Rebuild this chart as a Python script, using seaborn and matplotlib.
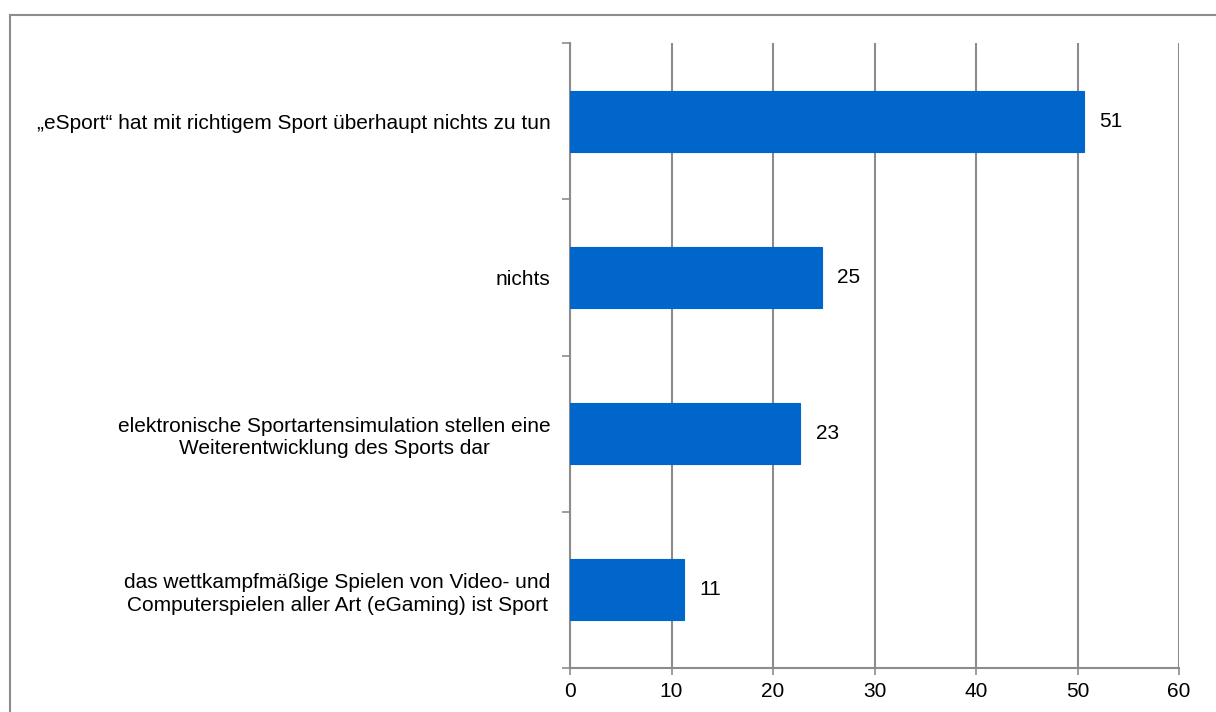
import matplotlib
matplotlib.use("Agg")
import matplotlib.pyplot as plt
from matplotlib.patches import Rectangle
import seaborn as sns
import pandas as pd

categories = [
    "„eSport“ hat mit richtigem Sport überhaupt nichts zu tun",
    "nichts",
    "elektronische Sportartensimulation stellen eine\nWeiterentwicklung des Sports dar",
    "das wettkampfmäßige Spielen von Video- und\nComputerspielen aller Art (eGaming) ist Sport",
]
values = [50.6, 24.8, 22.7, 11.2]
x_ticks = [0, 10, 20, 30, 40, 50, 60]

BAR_COLOR = "#0066CC"
GRID_COLOR = "#8C8C8C"
FS = 15

sns.set_theme(style="white")
plt.rcParams["font.family"] = ["Liberation Sans", "DejaVu Sans"]

df = pd.DataFrame({"category": categories, "value": values})

fig = plt.figure(figsize=(12.16, 7.12), dpi=100)
ax = fig.add_axes([570 / 1216, 1 - 668 / 712, (1179 - 570) / 1216, (668 - 43) / 712])

# outer chart frame
fig.patches.append(Rectangle((10 / 1216, -0.05), 1.2, 1 - 15 / 712 + 0.05,
                             transform=fig.transFigure, fill=False,
                             edgecolor="#8C8C8C", linewidth=1.5, zorder=0))

sns.barplot(data=df, x="value", y="category", orient="h", color=BAR_COLOR,
            saturation=1, width=0.39, ax=ax, zorder=3)
for p in ax.patches:
    p.set_edgecolor(BAR_COLOR)
    p.set_linewidth(0.8)

ax.set_xlim(0, 60)
ax.set_ylim(len(categories) - 0.5, -0.5)
ax.set_xticks(x_ticks)
ax.set_xticklabels([str(t) for t in x_ticks], fontsize=FS, color="black")
ax.xaxis.grid(True, color=GRID_COLOR, linewidth=1.5, zorder=0)
ax.set_axisbelow(True)

# category labels between the boundary ticks
ax.set_yticks([i - 0.5 for i in range(len(categories) + 1)])
ax.set_yticklabels([])
ax.set_yticks(range(len(categories)), minor=True)
ax.set_yticklabels(categories, minor=True, fontsize=FS, color="black",
                   multialignment="center", linespacing=1.25)
ax.tick_params(axis="y", which="minor", length=0, pad=14)
ax.tick_params(axis="y", which="major", length=6, width=1.2, color=GRID_COLOR, left=True)
ax.tick_params(axis="x", length=5, width=1.2, color=GRID_COLOR, bottom=True, pad=5)

for side in ("top", "right"):
    ax.spines[side].set_visible(False)
for side in ("left", "bottom"):
    ax.spines[side].set_color(GRID_COLOR)
    ax.spines[side].set_linewidth(1.5)

ax.set_xlabel("")
ax.set_ylabel("")

for i, v in enumerate(values):
    ax.annotate(f"{v:.0f}", xy=(v, i), xytext=(11, 0), textcoords="offset points",
                ha="left", va="center", fontsize=FS, color="black")

fig.savefig("out.png", dpi=100)
